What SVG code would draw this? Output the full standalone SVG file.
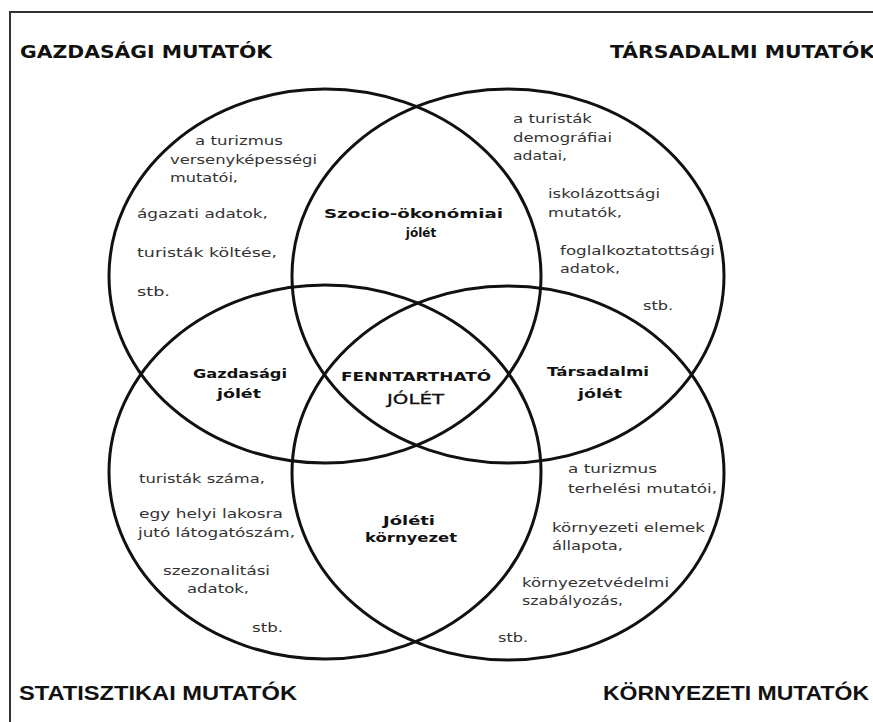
<svg xmlns="http://www.w3.org/2000/svg" width="873" height="722" viewBox="0 0 873 722">
<style>
.ring{fill:none;stroke:#111;stroke-width:3}
.hd{font-family:"DejaVu Sans",Verdana,sans-serif;font-weight:bold;font-size:17px;fill:#111}
.hd2{font-family:"Liberation Sans",Arial,sans-serif;font-weight:bold;font-size:20px;fill:#111}
.t{font-family:"DejaVu Sans",Verdana,sans-serif;font-size:12.5px;fill:#333}
.b{font-family:"DejaVu Sans",Verdana,sans-serif;font-size:12px;font-weight:bold;fill:#111}
.m{text-anchor:middle}
</style>
<rect width="873" height="722" fill="#fff"/>
<path d="M10,740 V12 H880" fill="none" stroke="#333" stroke-width="2"/>
<g id="headers">
<text class="hd" x="20" y="58" textLength="252" lengthAdjust="spacingAndGlyphs">GAZDASÁGI MUTATÓK</text>
<text class="hd" x="610" y="58" textLength="265" lengthAdjust="spacingAndGlyphs">TÁRSADALMI MUTATÓK</text>
<text class="hd2" x="19" y="700" textLength="278" lengthAdjust="spacingAndGlyphs">STATISZTIKAI MUTATÓK</text>
<text class="hd2" x="603" y="700" textLength="266" lengthAdjust="spacingAndGlyphs">KÖRNYEZETI MUTATÓK</text>
</g>
<g id="gazdasagi">
<ellipse class="ring" cx="325" cy="276" rx="216" ry="187"/>
<text class="t" x="195" y="145" textLength="88" lengthAdjust="spacingAndGlyphs">a turizmus</text>
<text class="t" x="170" y="164" textLength="147" lengthAdjust="spacingAndGlyphs">versenyképességi</text>
<text class="t" x="170" y="182" textLength="68" lengthAdjust="spacingAndGlyphs">mutatói,</text>
<text class="t" x="137" y="218" textLength="131" lengthAdjust="spacingAndGlyphs">ágazati adatok,</text>
<text class="t" x="137" y="257" textLength="140" lengthAdjust="spacingAndGlyphs">turisták költése,</text>
<text class="t" x="137" y="296" textLength="33" lengthAdjust="spacingAndGlyphs">stb.</text>
</g>
<g id="tarsadalmi">
<ellipse class="ring" cx="508" cy="276" rx="216" ry="187"/>
<text class="t" x="513" y="123" textLength="79" lengthAdjust="spacingAndGlyphs">a turisták</text>
<text class="t" x="513" y="142" textLength="99" lengthAdjust="spacingAndGlyphs">demográfiai</text>
<text class="t" x="513" y="160" textLength="54" lengthAdjust="spacingAndGlyphs">adatai,</text>
<text class="t" x="548" y="198" textLength="112" lengthAdjust="spacingAndGlyphs">iskolázottsági</text>
<text class="t" x="548" y="217" textLength="74" lengthAdjust="spacingAndGlyphs">mutatók,</text>
<text class="t" x="560" y="255" textLength="155" lengthAdjust="spacingAndGlyphs">foglalkoztatottsági</text>
<text class="t" x="560" y="273" textLength="60" lengthAdjust="spacingAndGlyphs">adatok,</text>
<text class="t" x="643" y="310" textLength="30" lengthAdjust="spacingAndGlyphs">stb.</text>
</g>
<g id="statisztikai">
<ellipse class="ring" cx="325" cy="472" rx="216" ry="187"/>
<text class="t" x="139" y="483" textLength="126" lengthAdjust="spacingAndGlyphs">turisták száma,</text>
<text class="t" x="139" y="518" textLength="144" lengthAdjust="spacingAndGlyphs">egy helyi lakosra</text>
<text class="t" x="138" y="537" textLength="157" lengthAdjust="spacingAndGlyphs">jutó látogatószám,</text>
<text class="t" x="163" y="575" textLength="107" lengthAdjust="spacingAndGlyphs">szezonalitási</text>
<text class="t" x="187" y="593" textLength="62" lengthAdjust="spacingAndGlyphs">adatok,</text>
<text class="t" x="252" y="632" textLength="31" lengthAdjust="spacingAndGlyphs">stb.</text>
</g>
<g id="kornyezeti">
<ellipse class="ring" cx="508" cy="473" rx="216" ry="187"/>
<text class="t" x="568" y="473" textLength="89" lengthAdjust="spacingAndGlyphs">a turizmus</text>
<text class="t" x="568" y="493" textLength="149" lengthAdjust="spacingAndGlyphs">terhelési mutatói,</text>
<text class="t" x="552" y="532" textLength="153" lengthAdjust="spacingAndGlyphs">környezeti elemek</text>
<text class="t" x="552" y="550" textLength="71" lengthAdjust="spacingAndGlyphs">állapota,</text>
<text class="t" x="522" y="587" textLength="147" lengthAdjust="spacingAndGlyphs">környezetvédelmi</text>
<text class="t" x="522" y="605" textLength="101" lengthAdjust="spacingAndGlyphs">szabályozás,</text>
<text class="t" x="498" y="642" textLength="30" lengthAdjust="spacingAndGlyphs">stb.</text>
</g>
<g id="szocio-okonomiai-jolet">
<text class="b" x="324" y="218" textLength="179" lengthAdjust="spacingAndGlyphs">Szocio-ökonómiai</text>
<text class="b m" x="421" y="237">jólét</text>
</g>
<g id="gazdasagi-jolet">
<text class="b" x="193" y="378" textLength="94" lengthAdjust="spacingAndGlyphs">Gazdasági</text>
<text class="b" x="217" y="398" textLength="44" lengthAdjust="spacingAndGlyphs">jólét</text>
</g>
<g id="fenntarthato-jolet">
<text class="b" x="341" y="381" textLength="150" lengthAdjust="spacingAndGlyphs">FENNTARTHATÓ</text>
<text class="t" x="387" y="404" textLength="57" lengthAdjust="spacingAndGlyphs" style="font-size:14px;fill:#111;stroke:#111;stroke-width:0.3">JÓLÉT</text>
</g>
<g id="tarsadalmi-jolet">
<text class="b" x="547" y="376" textLength="102" lengthAdjust="spacingAndGlyphs">Társadalmi</text>
<text class="b" x="578" y="398" textLength="44" lengthAdjust="spacingAndGlyphs">jólét</text>
</g>
<g id="joleti-kornyezet">
<text class="b" x="383" y="525" textLength="52" lengthAdjust="spacingAndGlyphs">Jóléti</text>
<text class="b" x="365" y="542" textLength="92" lengthAdjust="spacingAndGlyphs">környezet</text>
</g>
<g id="connectors"/>
</svg>
